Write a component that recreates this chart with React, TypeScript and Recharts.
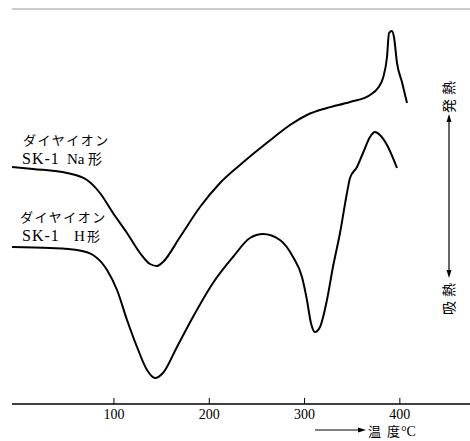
import React from "react";
import { LineChart, Line, XAxis, YAxis, ReferenceLine } from "recharts";

// Temperature (°C) vs DTA signal (arbitrary units, up = exothermic)
const naTemp = [-7, 15, 50.7, 71.7, 85.3, 99, 113.7, 127.3, 137.8, 145.2, 151.4, 169.3, 190.3, 211.3, 232.2, 266.9, 284.7, 302.5, 323.5, 347.7, 368.7, 377, 382.3, 386.5, 388.6, 391.7, 393.8, 397, 402.2, 407.5];
const naSignal = [237, 235, 231, 224, 211, 191, 171, 151, 140, 138, 142, 167, 197, 221, 239, 266, 279, 289, 296, 302, 309, 316, 326, 347, 371, 373, 367, 341, 322, 301];

const hTemp = [-7, 32.9, 61.2, 78, 92.7, 103.2, 113.7, 124.2, 134.7, 143.1, 151.4, 166.1, 182.9, 203.9, 224.9, 242.7, 256.4, 274.2, 287.9, 297.3, 302.5, 306.7, 310.9, 316.2, 323.5, 329.8, 337.2, 344.5, 347.7, 355, 361.3, 368.7, 373.9, 379.1, 386.5, 397];
const hSignal = [157, 156, 154, 149, 134, 114, 84, 57, 34, 26, 31, 57, 87, 121, 147, 166, 170, 164, 147, 127, 104, 81, 72, 77, 104, 137, 171, 211, 226, 237, 251, 267, 272, 269, 259, 236];

const xTicks = [100, 200, 300, 400];

const naData = naTemp.map((t, i) => ({ t, v: naSignal[i] }));
const hData = hTemp.map((t, i) => ({ t, v: hSignal[i] }));

const serif = "'Liberation Serif', 'DejaVu Serif', serif";
const cjk = "'Noto Sans CJK JP', 'Noto Sans CJK SC', sans-serif";

const Tick = (props: any) => {
  const { x, y, payload } = props;
  return (
    <g>
      <line x1={x} x2={x} y1={y - 6} y2={y} stroke="#000" strokeWidth={1} />
      <text x={x} y={y + 15} textAnchor="middle" fontFamily={serif} fontSize={14} fill="#000">
        {payload.value}
      </text>
    </g>
  );
};

export default function App() {
  return (
    <div style={{ position: "absolute", left: 0, top: 0, width: 470, height: 441, background: "#fff" }}>
      <LineChart width={470} height={441} margin={{ top: 9, left: 12, right: 0, bottom: 7 }}>
        <XAxis
          dataKey="t"
          type="number"
          domain={[-7, 473.6]}
          ticks={xTicks}
          tickSize={0}
          tickMargin={0}
          height={30}
          tick={<Tick />}
          axisLine={{ stroke: "#000", strokeWidth: 1.5 }}
          allowDataOverflow
        />
        <YAxis
          type="number"
          domain={[0, 395]}
          width={0}
          tick={false}
          tickLine={false}
          axisLine={{ stroke: "#000", strokeWidth: 1.5 }}
          allowDataOverflow
        />
        <ReferenceLine y={395} stroke="#999" strokeWidth={1} />
        <Line data={naData} dataKey="v" type="monotone" stroke="#000" strokeWidth={2} dot={false} isAnimationActive={false} />
        <Line data={hData} dataKey="v" type="monotone" stroke="#000" strokeWidth={2} dot={false} isAnimationActive={false} />
      </LineChart>
      <svg width={470} height={441} style={{ position: "absolute", left: 0, top: 0, pointerEvents: "none" }}>
        {/* Na label */}
        <text x={23} y={145} fontFamily={cjk} fontSize={13} letterSpacing={1.6} fill="#000">ダイヤイオン</text>
        <text x={22} y={164} fontFamily={serif} fontSize={16} letterSpacing={1} fill="#000">SK-1</text>
        <text x={67} y={164} fontFamily={serif} fontSize={15} fill="#000">Na</text>
        <text x={88} y={164} fontFamily={cjk} fontSize={14} fill="#000">形</text>
        {/* H label */}
        <text x={20} y={222} fontFamily={cjk} fontSize={13} letterSpacing={1.6} fill="#000">ダイヤイオン</text>
        <text x={22} y={241} fontFamily={serif} fontSize={16} letterSpacing={1} fill="#000">SK-1</text>
        <text x={74} y={241} fontFamily={serif} fontSize={15} fill="#000">H</text>
        <text x={87} y={241} fontFamily={cjk} fontSize={13} fill="#000">形</text>
        {/* right vertical annotation */}
        <text x={454} y={95} transform="rotate(-90 454 95)" textAnchor="middle" fontFamily={cjk} fontSize={14} letterSpacing={4} fill="#000">発熱</text>
        <text x={454} y={297} transform="rotate(-90 454 297)" textAnchor="middle" fontFamily={cjk} fontSize={14} letterSpacing={4} fill="#000">吸熱</text>
        <line x1={449} x2={449} y1={120} y2={272} stroke="#000" strokeWidth={1.2} />
        <polygon points="449,114 446.5,122 451.5,122" fill="#000" />
        <polygon points="449,278 446.5,270 451.5,270" fill="#000" />
        {/* bottom axis title */}
        <line x1={315} x2={360} y1={430} y2={430} stroke="#000" strokeWidth={1.2} />
        <polygon points="366,430 358,427.5 358,432.5" fill="#000" />
        <text x={368} y={436} fontFamily={cjk} fontSize={13} fill="#000">温</text>
        <text x={387} y={436} fontFamily={cjk} fontSize={13} fill="#000">度</text>
        <text x={401} y={436} fontFamily={serif} fontSize={14} fill="#000">°C</text>
      </svg>
    </div>
  );
}
